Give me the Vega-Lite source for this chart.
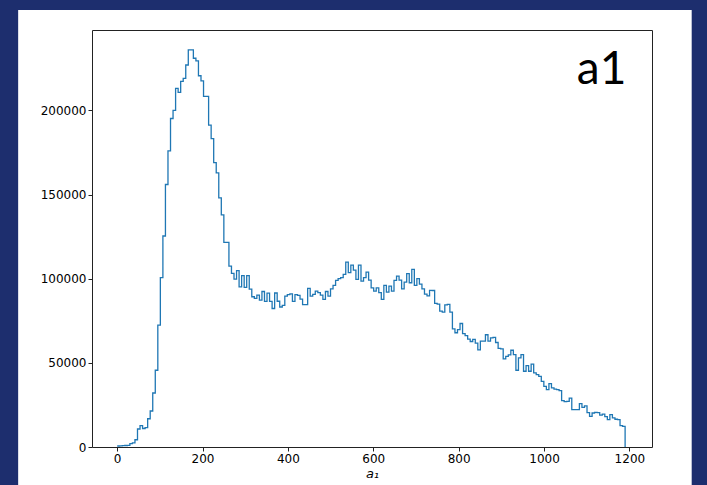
{
  "$schema": "https://vega.github.io/schema/vega-lite/v6.json",
  "width": 560,
  "height": 417,
  "autosize": {"type": "none"},
  "padding": {"left": 92, "top": 30, "right": 55, "bottom": 38},
  "background": "#1d2e6e",
  "config": {
    "view": {"stroke": null},
    "axis": {
      "grid": false,
      "domainColor": "#222222",
      "domainWidth": 1,
      "tickColor": "#222222",
      "tickSize": 4,
      "labelFont": "DejaVu Sans",
      "labelFontSize": 12,
      "labelColor": "#000000",
      "labelPadding": 2,
      "titleFont": "DejaVu Sans",
      "titleFontSize": 13,
      "titleFontWeight": "normal",
      "titleColor": "#000000"
    }
  },
  "datasets": {
    "hist": [
      {"x":0,"y":600},{"x":5.95,"y":700},{"x":11.9,"y":800},{"x":17.85,"y":900},{"x":23.8,"y":1000},
      {"x":29.75,"y":2000},{"x":35.7,"y":2500},{"x":41.65,"y":4300},{"x":47.6,"y":10700},{"x":53.55,"y":12700},
      {"x":59.5,"y":11000},{"x":65.45,"y":11500},{"x":71.4,"y":16800},{"x":77.35,"y":21400},{"x":83.3,"y":32100},
      {"x":89.25,"y":45600},{"x":95.2,"y":72400},{"x":101.15,"y":100600},{"x":107.1,"y":125400},{"x":113.05,"y":156000},
      {"x":119,"y":176000},{"x":124.95,"y":195200},{"x":130.9,"y":200000},{"x":136.85,"y":213100},{"x":142.8,"y":210700},
      {"x":148.75,"y":217300},{"x":154.7,"y":219000},{"x":160.65,"y":227000},{"x":166.6,"y":236000},{"x":172.55,"y":236000},
      {"x":178.5,"y":231000},{"x":184.45,"y":229500},{"x":190.4,"y":220600},{"x":196.35,"y":217600},{"x":202.3,"y":208300},
      {"x":208.25,"y":208300},{"x":214.2,"y":191300},{"x":220.15,"y":183300},{"x":226.1,"y":169000},{"x":232.05,"y":162900},
      {"x":238,"y":148000},{"x":243.95,"y":137900},{"x":249.9,"y":121600},{"x":255.85,"y":121600},{"x":261.8,"y":107500},
      {"x":267.75,"y":103200},{"x":273.7,"y":99800},{"x":279.65,"y":104800},{"x":285.6,"y":95200},{"x":291.55,"y":101800},
      {"x":297.5,"y":94800},{"x":303.45,"y":101800},{"x":309.4,"y":93800},{"x":315.35,"y":89300},{"x":321.3,"y":88300},
      {"x":327.25,"y":90200},{"x":333.2,"y":87300},{"x":339.15,"y":92400},{"x":345.1,"y":86500},{"x":351.05,"y":91400},
      {"x":357,"y":86500},{"x":362.95,"y":82300},{"x":368.9,"y":91500},{"x":374.85,"y":86600},{"x":380.8,"y":83200},
      {"x":386.75,"y":84200},{"x":392.7,"y":89700},{"x":398.65,"y":90600},{"x":404.6,"y":91000},{"x":410.55,"y":86500},
      {"x":416.5,"y":90500},{"x":422.45,"y":90100},{"x":428.4,"y":87900},{"x":434.35,"y":84600},{"x":440.3,"y":84600},
      {"x":446.25,"y":94300},{"x":452.2,"y":89700},{"x":458.15,"y":90700},{"x":464.1,"y":92600},{"x":470.05,"y":91700},
      {"x":476,"y":90200},{"x":481.95,"y":87700},{"x":487.9,"y":92400},{"x":493.85,"y":89600},{"x":499.8,"y":94000},
      {"x":505.75,"y":96000},{"x":511.7,"y":99000},{"x":517.65,"y":100000},{"x":523.6,"y":100600},{"x":529.55,"y":102600},
      {"x":535.5,"y":109900},{"x":541.45,"y":103600},{"x":547.4,"y":108100},{"x":553.35,"y":105100},{"x":559.3,"y":99600},
      {"x":565.25,"y":108100},{"x":571.2,"y":98600},{"x":577.15,"y":100600},{"x":583.1,"y":103900},{"x":589.05,"y":99200},
      {"x":595,"y":94600},{"x":600.95,"y":92600},{"x":606.9,"y":94600},{"x":612.85,"y":91700},{"x":618.8,"y":87700},
      {"x":624.75,"y":96000},{"x":630.7,"y":92000},{"x":636.65,"y":95600},{"x":642.6,"y":92600},{"x":648.55,"y":99000},
      {"x":654.5,"y":101500},{"x":660.45,"y":99200},{"x":666.4,"y":94000},{"x":672.35,"y":98000},{"x":678.3,"y":103000},
      {"x":684.25,"y":97600},{"x":690.2,"y":105500},{"x":696.15,"y":96000},{"x":702.1,"y":100000},{"x":708.05,"y":96800},
      {"x":714,"y":94000},{"x":719.95,"y":90900},{"x":725.9,"y":89800},{"x":731.85,"y":93100},{"x":737.8,"y":93000},
      {"x":743.75,"y":85300},{"x":749.7,"y":84900},{"x":755.65,"y":80800},{"x":761.6,"y":80200},{"x":767.55,"y":84400},
      {"x":773.5,"y":84700},{"x":779.45,"y":80200},{"x":785.4,"y":70200},{"x":791.35,"y":67900},{"x":797.3,"y":69800},
      {"x":803.25,"y":73400},{"x":809.2,"y":67400},{"x":815.15,"y":66200},{"x":821.1,"y":64100},{"x":827.05,"y":62700},
      {"x":833,"y":63900},{"x":838.95,"y":61700},{"x":844.9,"y":57700},{"x":850.85,"y":62900},{"x":856.8,"y":62900},
      {"x":862.75,"y":66700},{"x":868.7,"y":62900},{"x":874.65,"y":64900},{"x":880.6,"y":65100},{"x":886.55,"y":62100},
      {"x":892.5,"y":58600},{"x":898.45,"y":58300},{"x":904.4,"y":52400},{"x":910.35,"y":53900},{"x":916.3,"y":54700},
      {"x":922.25,"y":57500},{"x":928.2,"y":54900},{"x":934.15,"y":45600},{"x":940.1,"y":53000},{"x":946.05,"y":54900},
      {"x":952,"y":45000},{"x":957.95,"y":48400},{"x":963.9,"y":45000},{"x":969.85,"y":49200},{"x":975.8,"y":44000},
      {"x":981.75,"y":43000},{"x":987.7,"y":42000},{"x":993.65,"y":39000},{"x":999.6,"y":36000},{"x":1005.55,"y":34100},
      {"x":1011.5,"y":37700},{"x":1017.45,"y":35100},{"x":1023.4,"y":34400},{"x":1029.35,"y":34100},{"x":1035.3,"y":33500},
      {"x":1041.25,"y":27600},{"x":1047.2,"y":27000},{"x":1053.15,"y":27100},{"x":1059.1,"y":29000},{"x":1065.05,"y":22200},
      {"x":1071,"y":22200},{"x":1076.95,"y":22200},{"x":1082.9,"y":25800},{"x":1088.85,"y":23600},{"x":1094.8,"y":24400},
      {"x":1100.75,"y":20400},{"x":1106.7,"y":18200},{"x":1112.65,"y":20200},{"x":1118.6,"y":20600},{"x":1124.55,"y":20400},
      {"x":1130.5,"y":18900},{"x":1136.45,"y":19500},{"x":1142.4,"y":18000},{"x":1148.35,"y":16300},{"x":1154.3,"y":19200},
      {"x":1160.25,"y":17300},{"x":1166.2,"y":16500},{"x":1172.15,"y":16300},{"x":1178.1,"y":12700},{"x":1184.05,"y":12300},
      {"x":1190,"y":0}
    ]
  },
  "layer": [
    {
      "data": {"values": [{}]},
      "mark": {"type": "rect", "color": "#ffffff", "clip": false, "zindex": 0},
      "encoding": {
        "x": {"datum": -232, "type": "quantitative",
              "scale": {"domain": [-59, 1253], "nice": false, "zero": false},
              "axis": {"orient": "top", "labels": false, "ticks": false, "title": null, "domain": true, "zindex": 2}},
        "x2": {"datum": 1346},
        "y": {"datum": 259700, "type": "quantitative",
              "scale": {"domain": [0, 247800], "nice": false, "zero": false},
              "axis": {"orient": "right", "labels": false, "ticks": false, "title": null, "domain": true, "zindex": 2}},
        "y2": {"datum": -40000}
      }
    },
    {
      "data": {"name": "hist"},
      "mark": {"type": "line", "interpolate": "step-after", "color": "#1f77b4", "strokeWidth": 1.3, "zindex": 1},
      "encoding": {
        "x": {"field": "x", "type": "quantitative",
              "scale": {"domain": [-59, 1253], "nice": false, "zero": false},
              "axis": {"orient": "bottom", "values": [0, 200, 400, 600, 800, 1000, 1200], "format": "d",
                       "title": "a₁", "titleFontStyle": "italic", "titlePadding": 3, "zindex": 2}},
        "y": {"field": "y", "type": "quantitative",
              "scale": {"domain": [0, 247800], "nice": false, "zero": false},
              "axis": {"orient": "left", "values": [0, 50000, 100000, 150000, 200000], "format": "d", "title": null, "zindex": 2}}
      }
    },
    {
      "data": {"values": [{}]},
      "mark": {"type": "text", "text": "a1", "font": "Lato", "fontSize": 46, "color": "#000000",
               "align": "center", "baseline": "alphabetic", "zindex": 1},
      "encoding": {
        "x": {"datum": 1135, "type": "quantitative",
              "scale": {"domain": [-59, 1253], "nice": false, "zero": false}, "axis": null},
        "y": {"datum": 215700, "type": "quantitative",
              "scale": {"domain": [0, 247800], "nice": false, "zero": false}, "axis": null}
      }
    }
  ],
  "resolve": {"axis": {"x": "independent", "y": "independent"}}
}
